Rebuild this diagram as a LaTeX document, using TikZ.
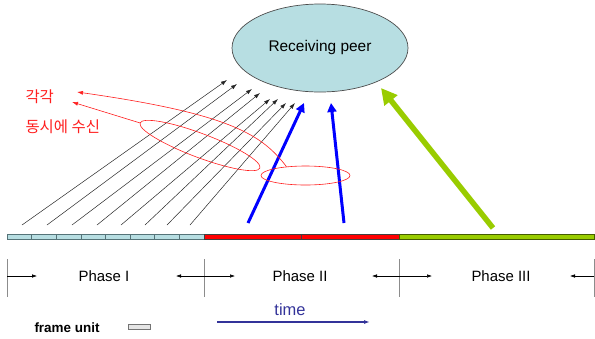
\documentclass[tikz,border=0pt]{standalone}
\usepackage{fontspec}
\setmainfont{Liberation Sans}
\newfontfamily\krfont{Noto Sans CJK KR}
\usetikzlibrary{arrows.meta,shapes.geometric}
\definecolor{peerBlue}{RGB}{183,222,226}
\definecolor{frameEdge}{RGB}{85,115,120}
\definecolor{phaseRed}{RGB}{255,0,0}
\definecolor{phaseGreen}{RGB}{153,204,0}
\definecolor{timeBlue}{RGB}{51,51,153}
\definecolor{noteRed}{RGB}{255,30,30}

\begin{document}
\begin{tikzpicture}[x=1bp,y=-1bp,
	peer/.style={
		ellipse, draw=black!70, fill=peerBlue, line width=0.7pt,
		minimum width=176bp, minimum height=88bp, inner sep=0pt,
		font=\fontsize{15.5}{18}\selectfont
	},
	framebox/.style={
		draw=frameEdge, fill=peerBlue, line width=0.6pt, anchor=north west,
		minimum width=24.625bp, minimum height=5bp, inner sep=0pt, outer sep=0pt
	},
	slot/.style={
		draw=black!75, line width=0.6pt, anchor=north west,
		minimum height=5bp, inner sep=0pt, outer sep=0pt
	},
	frameflow/.style={black!85, line width=0.5pt, -{Latex[length=6bp,width=4bp]}},
	burst/.style={blue, line width=3bp, -{Triangle[length=9bp,width=9bp]}},
	ring/.style={ellipse, draw=noteRed, line width=0.6pt, inner sep=0pt},
	pointer/.style={noteRed, line width=0.6pt, -{Latex[length=6bp,width=4bp]}},
	note/.style={text=noteRed, font=\krfont\fontsize{15.5}{18}\selectfont, anchor=west},
	divider/.style={black!45, line width=0.8pt},
	span/.style={black, line width=0.5pt, -{Latex[length=5bp,width=3.5bp]}},
	phasetext/.style={font=\fontsize{15}{18}\selectfont}
	]
	\useasboundingbox (0,0) rectangle (595,338);

	\node[peer] (peer) at (320,48) {Receiving peer};

	% frames on the time axis
	\foreach \i in {0,...,7}
	\node[framebox] (f\i) at ({7+24.625*\i},234) {};
	\node[slot, fill=phaseRed, minimum width=97.5bp] (r1) at (204,234) {};
	\node[slot, fill=phaseRed, minimum width=97.5bp] (r2) at (r1.north east) {};
	\node[slot, fill=phaseGreen, draw=black!55!phaseGreen, minimum width=195bp] (g1) at (r2.north east) {};

	% phase I: one arrow per frame
	\foreach \sx/\ex/\ey [count=\k] in {22/227/80,47/237/84,72/252/89,97/260/93,121/270/99,145/278/99,167/286/103,190/295/103}{
		\coordinate (s\k) at (\sx,225);
		\coordinate (e\k) at (\ex,\ey);
		\draw[frameflow] (s\k) -- (e\k);
	}

	% phase II and III
	\coordinate (b1s) at (248,223);
	\coordinate (b1e) at (304,103);
	\coordinate (b2s) at (344,223);
	\coordinate (b2e) at (331,103);
	\draw[burst] (b1s) -- (b1e);
	\draw[burst] (b2s) -- (b2e);
	\coordinate (gs) at (493,228);
	\coordinate (ge) at (381,88);
	\draw[phaseGreen, line width=5.5bp, -{Triangle[length=16bp,width=16bp]}] (gs) -- (ge);

	% remarks
	\node[ring, minimum width=128bp, minimum height=24bp, rotate=-20.6] (grp1) at (200,145.5) {};
	\node[ring, minimum width=89bp, minimum height=19bp] (grp2) at (305.5,175.5) {};
	\node[note] (each) at (22,97) {각각};
	\node[note] (simul) at (22,127) {동시에 수신};
	\coordinate (n1) at (77,92);
	\coordinate (n2) at (72,102);
	\draw[pointer] (grp2.155) .. controls (262,135) and (232,114) .. (n1);
	\draw[pointer] (grp1.west) -- (n2);

	% phases
	\foreach \x [count=\k from 0] in {7,204,399,594}{
		\draw[divider] (\x,259) -- (\x,297);
		\coordinate (d\k) at (\x,276);
	}
	\draw[span] (d0) -- ++(30,0);
	\draw[span] (d1) -- ++(-28,0);
	\draw[span] (d1) -- ++(31,0);
	\draw[span] (d2) -- ++(-27,0);
	\draw[span] (d2) -- ++(33,0);
	\draw[span] (d3) -- ++(-24,0);
	\node[phasetext] (ph1) at (104,276) {Phase I};
	\node[phasetext] (ph2) at (300,276) {Phase II};
	\node[phasetext] (ph3) at (501,276) {Phase III};

	% time and legend
	\node[text=timeBlue, font=\fontsize{16.5}{18}\selectfont] (time) at (290,310) {time};
	\coordinate (t0) at (217,322);
	\coordinate (t1) at (370,322);
	\draw[timeBlue, line width=1.2pt, -{Latex[length=6bp,width=4bp]}] (t0) -- (t1);
	\node[font=\bfseries\fontsize{13.5}{15}\selectfont, anchor=west] (unit) at (31,328) {frame unit};
	\node[draw=black!55, fill=black!10, line width=0.6pt, minimum width=22bp, minimum height=5bp, inner sep=0pt] (unitbox) at (139,327) {};
\end{tikzpicture}
\end{document}
